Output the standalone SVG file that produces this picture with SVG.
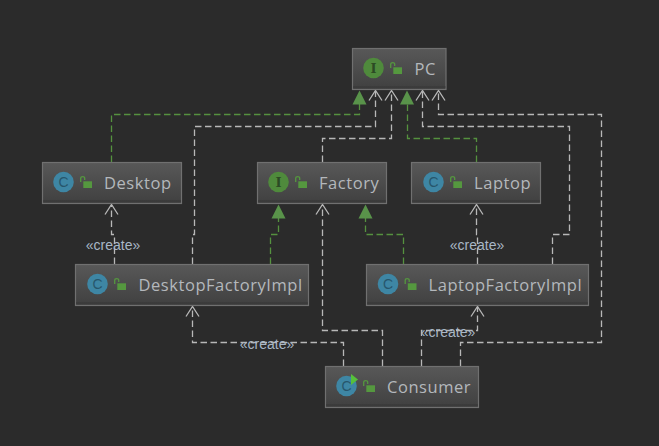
<svg xmlns="http://www.w3.org/2000/svg" width="659" height="446" viewBox="0 0 659 446">
<style>
text{font-family:"Open Sans","Noto Sans","DejaVu Sans",sans-serif}
.b{fill:url(#g);stroke:#707070;stroke-width:1.2}
.s{stroke:#363636;stroke-width:1.2}
.t{font-size:16.500px;fill:#b4b8bc;letter-spacing:.55px}
.l{font-size:14px;fill:#a9b7c6;text-anchor:middle;font-family:"Liberation Sans",sans-serif}
.w{fill:none;stroke:#b8b8b8;stroke-width:1.300;stroke-dasharray:6.500 3.500}
.g{fill:none;stroke:#55913f;stroke-width:1.300;stroke-dasharray:6.500 3.500}
.o{fill:none;stroke:#b8b8b8;stroke-width:1.300}
.a{fill:#59934a}
.ci{fill:#3e86a4}.ii{fill:#4f8a3c}
.ct{font-size:14px;text-anchor:middle;fill:#27566c;font-family:"Liberation Sans",sans-serif}
.it{font-size:13px;font-weight:700;text-anchor:middle;fill:#2c4a24;font-family:"DejaVu Serif",serif}
.lk{fill:#55983f}.ls{fill:none;stroke:#55983f;stroke-width:1.300}
</style>
<defs>
<linearGradient id="g" x1="0" y1="0" x2="0" y2="1"><stop offset="0" stop-color="#585858"/><stop offset="1" stop-color="#404040"/></linearGradient>
<g id="lock"><path class="ls" d="M.7 6V2Q.7 .6 2.700 .6Q4.700 .6 4.700 2V4"/><rect class="lk" x="3.300" y="5.300" width="8.700" height="6.700"/></g>
<path id="open" class="o" d="M-6.500 10L0 0L6.500 10"/>
<path id="tri" class="a" d="M0 0L7 14H-7Z"/>
</defs>
<rect width="659" height="446" fill="#2b2b2b"/>
<g id="connectors">
<path class="g" d="M111.500 162V114.500H359.500V104"/>
<path class="w" d="M192.500 264V234.500H194.500V126.500H375.500V91"/>
<path class="w" d="M322.500 162V138.500H391.500V91"/>
<path class="g" d="M476.500 162V138.500H407.500V104"/>
<path class="w" d="M552.500 264V234.500H569.500V126.500H422.500V91"/>
<path class="w" d="M460.500 366V342.500H601.500V114.500H438.500V91"/>
<path class="w" d="M382.500 366V330.500H322.500V205"/>
<path class="w" d="M343.500 366V342.500H192.500V307"/>
<path class="w" d="M421.500 366V330.500H477.500V307"/>
<path class="w" d="M477.500 264V234.500H476.500V205"/>
<path class="w" d="M114.500 264V234.500H111.500V205"/>
<path class="g" d="M270.500 264V234.500H278.500V218"/>
<path class="g" d="M403.500 264V234.500H365.500V218"/>
<use href="#tri" x="359.500" y="90.500"/>
<use href="#tri" x="407" y="90.500"/>
<use href="#tri" x="278.500" y="204.500"/>
<use href="#tri" x="365.500" y="204.500"/>
<use href="#open" x="375.500" y="90.500"/>
<use href="#open" x="391.500" y="90.500"/>
<use href="#open" x="422.500" y="90.500"/>
<use href="#open" x="438.500" y="90.500"/>
<use href="#open" x="322.500" y="204.500"/>
<use href="#open" x="476.500" y="204.500"/>
<use href="#open" x="111.500" y="204.500"/>
<use href="#open" x="192.500" y="306.500"/>
<use href="#open" x="477.500" y="306.500"/>
<text class="l" x="113" y="250">«create»</text>
<text class="l" x="477" y="250">«create»</text>
<text class="l" x="267" y="349">«create»</text>
<text class="l" x="448" y="337">«create»</text>
</g>
<g id="PC"><rect class="b" x="352.500" y="48.500" width="93.500" height="41"/><path class="s" d="M353 87H445.500"/><circle class="ii" cx="373.500" cy="68" r="10.300"/><text class="it" x="373.500" y="72.500">I</text><use href="#lock" x="390" y="62"/><text class="t" x="414.500" y="74.500">PC</text></g>
<g id="Desktop"><rect class="b" x="42.500" y="162.500" width="139" height="41"/><path class="s" d="M43 201H181"/><circle class="ci" cx="63.500" cy="182" r="10.300"/><text class="ct" x="63.500" y="187">C</text><use href="#lock" x="80" y="176"/><text class="t" x="104" y="188.500">Desktop</text></g>
<g id="Factory"><rect class="b" x="257.500" y="162.500" width="129" height="41"/><path class="s" d="M258 201H386"/><circle class="ii" cx="278.500" cy="182" r="10.300"/><text class="it" x="278.500" y="186.500">I</text><use href="#lock" x="295" y="176"/><text class="t" x="319" y="188.500">Factory</text></g>
<g id="Laptop"><rect class="b" x="411.500" y="162.500" width="129" height="41"/><path class="s" d="M412 201H540"/><circle class="ci" cx="433.500" cy="182" r="10.300"/><text class="ct" x="433.500" y="187">C</text><use href="#lock" x="450" y="176"/><text class="t" x="474" y="188.500">Laptop</text></g>
<g id="DesktopFactoryImpl"><rect class="b" x="75.500" y="264.500" width="233" height="41"/><path class="s" d="M76 303H308"/><circle class="ci" cx="97.500" cy="284" r="10.300"/><text class="ct" x="97.500" y="289">C</text><use href="#lock" x="114" y="278"/><text class="t" x="138.500" y="290.500">DesktopFactoryImpl</text></g>
<g id="LaptopFactoryImpl"><rect class="b" x="366.500" y="264.500" width="222" height="41"/><path class="s" d="M367 303H588"/><circle class="ci" cx="388" cy="284" r="10.300"/><text class="ct" x="388" y="289">C</text><use href="#lock" x="404.500" y="278"/><text class="t" x="428.500" y="290.500">LaptopFactoryImpl</text></g>
<g id="Consumer"><rect class="b" x="325.500" y="366.500" width="153" height="41"/><path class="s" d="M326 405H478"/><circle class="ci" cx="346.500" cy="386" r="10.300"/><text class="ct" x="346.500" y="391">C</text><path d="M351 374L358 379.500L351 385Z" fill="#57c03a"/><use href="#lock" x="363" y="380"/><text class="t" x="387" y="392.500">Consumer</text></g>
</svg>
